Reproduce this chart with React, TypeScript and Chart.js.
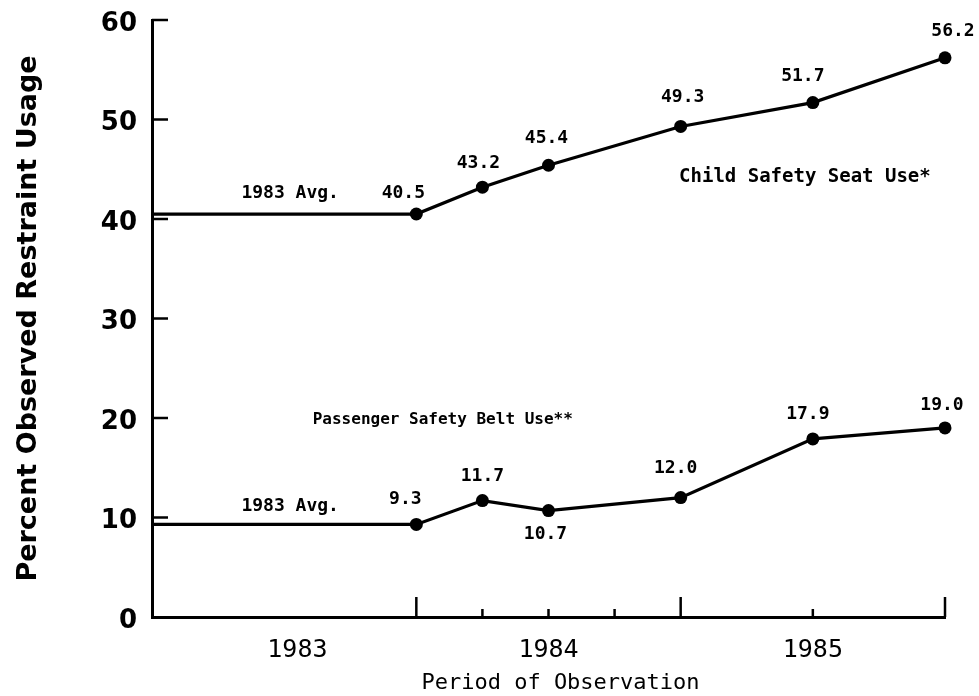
import React, { useEffect, useRef } from "react";
import { Chart, registerables } from "chart.js";

Chart.register(...registerables);

// ---- data ----
const periods = [1983, 1984, 1984.25, 1984.5, 1985, 1985.5, 1986];
const childSeatUse = [40.5, 40.5, 43.2, 45.4, 49.3, 51.7, 56.2];
const beltUse = [9.3, 9.3, 11.7, 10.7, 12.0, 17.9, 19.0];

const xTickLabels = ["1983", "1984", "1985"];
const xTickLabelValues = [1983.55, 1984.5, 1985.5];
const xMajorTicks = [1984, 1985, 1986];
const xMinorTicks = [1984.25, 1984.5, 1984.75, 1985.5];
const yTickValues = [10, 20, 30, 40, 50, 60];

const avgLabel = "1983 Avg.";
const childSeriesLabel = "Child Safety Seat Use*";
const beltSeriesLabel = "Passenger Safety Belt Use**";

// ---- styling / label placement (pixels) ----
const childLabelOffsets: (number[] | null)[] = [null, [-13, -21], [-4, -24], [-2, -27], [2, -29], [-10, -26], [8, -26]];
const beltLabelOffsets: (number[] | null)[] = [null, [-11, -25], [0, -24], [-3, 24], [-5, -29], [-5, -25], [-3, -23]];

const MONO = "'DejaVu Sans Mono', monospace";
const SANS = "'DejaVu Sans', sans-serif";

const annotPlugin = {
  id: "annot",
  afterDraw(chart: any) {
    const { ctx, chartArea } = chart;
    const xs = chart.scales.x;
    const ys = chart.scales.y;
    ctx.save();
    ctx.strokeStyle = "#000";
    ctx.lineWidth = 2.5;
    ctx.lineCap = "butt";
    // y tick marks (inward)
    yTickValues.forEach((v) => {
      const y = ys.getPixelForValue(v);
      ctx.beginPath();
      ctx.moveTo(chartArea.left, y);
      ctx.lineTo(chartArea.left + 16, y);
      ctx.stroke();
    });
    // x tick marks (inward)
    xMajorTicks.forEach((v) => {
      const x = xs.getPixelForValue(v);
      ctx.beginPath();
      ctx.moveTo(x, chartArea.bottom);
      ctx.lineTo(x, chartArea.bottom - 20);
      ctx.stroke();
    });
    xMinorTicks.forEach((v) => {
      const x = xs.getPixelForValue(v);
      ctx.beginPath();
      ctx.moveTo(x, chartArea.bottom);
      ctx.lineTo(x, chartArea.bottom - 8);
      ctx.stroke();
    });

    ctx.fillStyle = "#000";
    ctx.textAlign = "center";
    ctx.textBaseline = "middle";

    // value labels
    ctx.font = `bold 18px ${MONO}`;
    const drawVals = (vals: number[], offs: (number[] | null)[]) => {
      vals.forEach((v, i) => {
        const o = offs[i];
        if (!o) return;
        const x = xs.getPixelForValue(periods[i]);
        const y = ys.getPixelForValue(v);
        ctx.fillText(v.toFixed(1), x + o[0], y + o[1]);
      });
    };
    drawVals(childSeatUse, childLabelOffsets);
    drawVals(beltUse, beltLabelOffsets);

    // 1983 Avg. labels
    const ax = xs.getPixelForValue(1983.5) + 6;
    ctx.fillText(avgLabel, ax, ys.getPixelForValue(childSeatUse[0]) - 21);
    ctx.fillText(avgLabel, ax, ys.getPixelForValue(beltUse[0]) - 18);

    // series labels
    ctx.font = `bold 19px ${MONO}`;
    ctx.fillText(childSeriesLabel, xs.getPixelForValue(1985.47), ys.getPixelForValue(44.2));
    ctx.font = `bold 16px ${MONO}`;
    ctx.fillText(beltSeriesLabel, xs.getPixelForValue(1984.1), ys.getPixelForValue(19.8));

    // x axis title
    ctx.font = `22px ${MONO}`;
    ctx.fillText("Period of Observation", (chartArea.left + chartArea.right) / 2 + 12, 683);
    ctx.restore();
  },
};

export default function App() {
  const ref = useRef<HTMLCanvasElement | null>(null);
  useEffect(() => {
    if (!ref.current) return;
    const mk = (vals: number[]) => periods.map((p, i) => ({ x: p, y: vals[i] }));
    const radii = periods.map((_, i) => (i === 0 ? 0 : 6.5));
    const chart = new Chart(ref.current, {
      type: "line",
      data: {
        datasets: [
          {
            label: childSeriesLabel,
            data: mk(childSeatUse),
            borderColor: "#000",
            backgroundColor: "#000",
            borderWidth: 3.2,
            pointRadius: radii,
            pointBorderWidth: 0,
            pointBackgroundColor: "#000",
            tension: 0,
            clip: false,
          },
          {
            label: beltSeriesLabel,
            data: mk(beltUse),
            borderColor: "#000",
            backgroundColor: "#000",
            borderWidth: 3.2,
            pointRadius: radii,
            pointBorderWidth: 0,
            pointBackgroundColor: "#000",
            tension: 0,
            clip: false,
          },
        ],
      },
      options: {
        animation: false,
        responsive: false,
        events: [],
        layout: { padding: { top: 20, right: 34, left: 0, bottom: 0 } },
        plugins: { legend: { display: false }, tooltip: { enabled: false } },
        scales: {
          x: {
            type: "linear",
            min: 1983,
            max: 1986,
            grid: { display: false, drawTicks: false },
            border: { display: true, width: 3, color: "#000" },
            afterBuildTicks: (s: any) => {
              s.ticks = xTickLabelValues.map((v) => ({ value: v }));
            },
            afterFit: (s: any) => {
              s.height = 79;
              s.paddingLeft = 0;
              s.paddingRight = 0;
            },
            ticks: {
              autoSkip: false,
              maxRotation: 0,
              padding: 18,
              color: "#000",
              font: { family: MONO, size: 25 },
              callback: (_v: any, i: number) => xTickLabels[i],
            },
          },
          y: {
            min: 0,
            max: 60,
            grid: { display: false, drawTicks: false },
            border: { display: true, width: 3, color: "#000" },
            afterFit: (s: any) => {
              s.width = 152;
              s.paddingTop = 0;
              s.paddingBottom = 0;
            },
            ticks: {
              stepSize: 10,
              padding: 15,
              labelOffset: 4,
              color: "#000",
              font: { family: SANS, size: 26, weight: "bold" },
            },
            title: {
              display: true,
              text: "Percent Observed Restraint Usage",
              color: "#000",
              font: { family: SANS, size: 27, weight: "bold" },
              padding: { top: 13, bottom: 0 },
            },
          },
        },
      },
      plugins: [annotPlugin],
    } as any);
    return () => chart.destroy();
  }, []);
  return (
    <div style={{ position: "absolute", left: 0, top: 0, width: 979, height: 696, background: "#fff" }}>
      <canvas ref={ref} width={979} height={696} style={{ display: "block" }} />
    </div>
  );
}
